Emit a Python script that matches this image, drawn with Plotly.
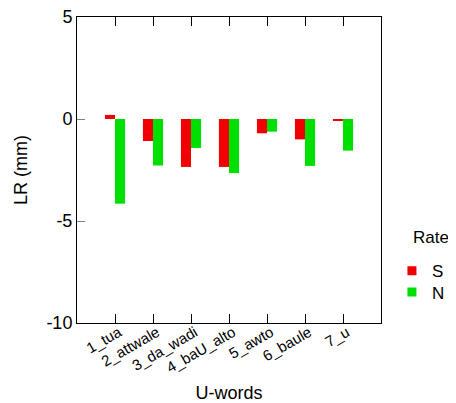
import plotly.graph_objects as go

categories = ["1_tua", "2_attwale", "3_da_wadi", "4_baU_alto", "5_awto", "6_baule", "7_u"]
s_values = [0.2, -1.08, -2.35, -2.35, -0.70, -1.0, -0.05]
n_values = [-4.15, -2.28, -1.42, -2.65, -0.62, -2.3, -1.55]
y_ticks = [-10, -5, 0, 5]
S_COLOR = "#F00000"
N_COLOR = "#00E000"

FONT = "Liberation Sans, Arial, sans-serif"

fig = go.Figure()
fig.add_trace(go.Bar(x=categories, y=s_values, name="S", showlegend=False,
                     marker=dict(color=S_COLOR, line=dict(width=0))))
fig.add_trace(go.Bar(x=categories, y=n_values, name="N", showlegend=False,
                     marker=dict(color=N_COLOR, line=dict(width=0))))
# legend entries (small squares like the reference)
fig.add_trace(go.Scatter(x=[None], y=[None], mode="markers", name="S", legend="legend",
                         marker=dict(symbol="square", size=9, color=S_COLOR)))
fig.add_trace(go.Scatter(x=[None], y=[None], mode="markers", name="N", legend="legend2",
                         marker=dict(symbol="square", size=9, color=N_COLOR)))

legend_common = dict(font=dict(size=17), xanchor="left", yanchor="top",
                     itemwidth=30, bgcolor="rgba(0,0,0,0)")

fig.update_layout(
    width=448, height=395,
    margin=dict(l=69, r=75, t=9, b=80, autoexpand=False),
    paper_bgcolor="white", plot_bgcolor="white",
    barmode="group", bargap=0.47, bargroupgap=0,
    font=dict(family=FONT, color="black"),
    legend=dict(x=1.036, y=0.228, **legend_common),
    legend2=dict(x=1.036, y=0.159, **legend_common),
    annotations=[dict(text="Rate", x=1.1, y=0.278, xref="paper", yref="paper",
                      xanchor="left", yanchor="middle", showarrow=False,
                      font=dict(size=17))],
)
fig.update_xaxes(
    title=dict(text="U-words", font=dict(size=18), standoff=12),
    automargin=False,
    range=[-1, 7],
    tickangle=-30, tickfont=dict(size=15),
    ticklabelstandoff=-6, ticklabelshift=4,
    showline=True, linecolor="black", linewidth=1, mirror="ticks",
    ticks="inside", ticklen=9, tickcolor="black",
    showgrid=False, zeroline=False,
)
fig.update_yaxes(
    title=dict(text="LR (mm)", font=dict(size=18), standoff=14),
    automargin=False,
    range=[-10, 5], tickvals=y_ticks, ticktext=[str(v) for v in y_ticks],
    tickfont=dict(size=18), ticklabeloverflow="allow",
    showline=True, linecolor="black", linewidth=1, mirror=True,
    ticks="inside", ticklen=8, tickcolor="gray",
    showgrid=False, zeroline=False,
)

fig.write_html("out.html")
